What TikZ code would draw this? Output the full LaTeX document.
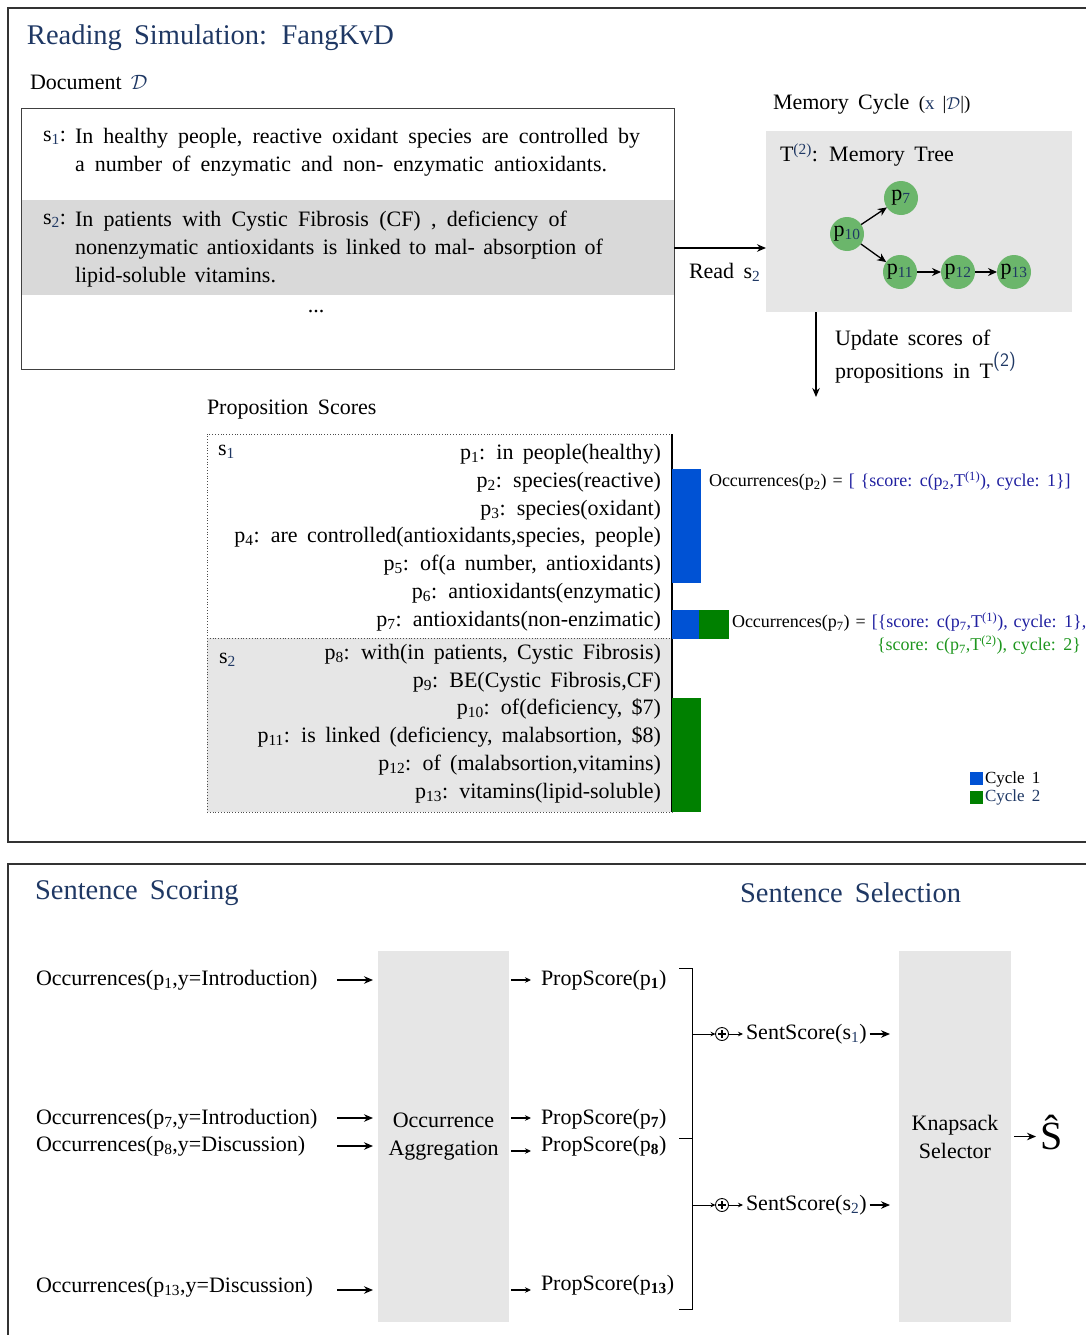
\documentclass[tikz,border=0pt]{standalone}
\usepackage{fontspec}
\setmainfont{Liberation Serif}[WordSpace=1.7]
\usetikzlibrary{arrows.meta}
\definecolor{navy}{RGB}{31,56,100}
\definecolor{cblue}{RGB}{0,82,212}
\definecolor{cgreen}{RGB}{0,128,0}
\definecolor{lgreen}{RGB}{107,182,107}
\definecolor{lgray}{RGB}{230,230,230}
\definecolor{mgray}{RGB}{217,217,217}
\definecolor{tblue}{RGB}{32,32,160}
\definecolor{tgreen}{RGB}{30,150,30}
\newcommand{\fsz}[1]{\fontsize{#1}{#1}\selectfont}
\newcommand{\nsub}[1]{\textsubscript{\textcolor{navy}{#1}}}
\newcommand{\bsub}[1]{\textsubscript{#1}}
\newcommand{\nsup}[1]{\textsuperscript{\textcolor{navy}{#1}}}
\newcommand{\tightsp}{\spaceskip=0.33em plus 0.1em minus 0.05em\relax}
\begin{document}
\begin{tikzpicture}[x=1pt,y=-1pt,
  every node/.style={inner sep=0pt, outer sep=0pt},
  body/.style={font=\fsz{22}},
  small/.style={font=\fsz{18}},
  ttl/.style={font=\fsz{28.5}, text=navy},
  arr/.style={-{Stealth[length=9pt,width=7.5pt]}, line width=1.2pt},
  sarr/.style={-{Stealth[length=5pt,width=4.5pt]}, line width=0.8pt},
  tarr/.style={-{Stealth[length=9pt,width=8pt]}, line width=1.3pt},
  frame/.style={draw=black!80, line width=1.6pt},
  tnode/.style={circle, fill=lgreen, minimum size=34pt, font=\fsz{22}},
  bar/.style={fill=#1, anchor=north west}
]
\useasboundingbox (0,0) rectangle (1086,1335);
\clip (0,0) rectangle (1086,1335);

% ===== top frame =====
\node[frame, anchor=north west, minimum width=1110pt, minimum height=834pt] (topframe) at (8,8) {};
\node[ttl, anchor=west] (title1) at (27,38) {Reading Simulation: FangKvD};
\node[body, anchor=west] (doclbl) at (30,82) {Document \textcolor{navy}{$\mathcal{D}$}};

% document box
\node[fill=mgray, anchor=north west, minimum width=653pt, minimum height=95pt] (band) at (21,200) {};
\node[draw=black!75, line width=0.9pt, anchor=north west, minimum width=653pt, minimum height=261pt] (docbox) at (21,108) {};
\node[body, anchor=west] (s1l) at (43,138) {s\nsub{1}:};
\node[body, anchor=west] (s1a) at (75,138) {\makebox[565pt][s]{In healthy people, reactive oxidant species are controlled by}};
\node[body, anchor=west] (s1b) at (75,166) {\makebox[532pt][s]{a number of enzymatic and non- enzymatic antioxidants.}};
\node[body, anchor=west] (s2l) at (43,221) {s\nsub{2}:};
\node[body, anchor=west] (s2a) at (75,221) {\makebox[492pt][s]{In patients with Cystic Fibrosis (CF) , deficiency of}};
\node[body, anchor=west] (s2b) at (75,249) {\makebox[528pt][s]{nonenzymatic antioxidants is linked to mal- absorption of}};
\node[body, anchor=west] (s2c) at (75,277) {\makebox[201pt][s]{lipid-soluble vitamins.}};
\node[body] (dots) at (316,312) {...};

% memory cycle
\node[body, anchor=west] (memlbl) at (773,104) {Memory Cycle {\fsz{19}(\textcolor{navy}{x} |\textcolor{navy}{$\mathcal{D}$}|)}};
\node[fill=lgray, anchor=north west, minimum width=306pt, minimum height=181pt] (membox) at (766,131) {};
\node[body, anchor=west] (memttl) at (780,155) {T\nsup{(2)}: Memory Tree};
\node[tnode] (p10) at (847,234) {p\nsub{10}};
\node[tnode] (p7) at (901,198) {p\nsub{7}};
\node[tnode] (p11) at (900,272) {p\nsub{11}};
\node[tnode] (p12) at (958,272) {p\nsub{12}};
\node[tnode] (p13) at (1014,272) {p\nsub{13}};
\draw[tarr] (p10) -- (p7);
\draw[tarr] (p10) -- (p11);
\draw[tarr] (p11) -- (p12);
\draw[tarr] (p12) -- (p13);

\coordinate (rd) at (674,248);
\draw[arr] (rd) -- (rd -| membox.west);
\node[body, anchor=west] (readlbl) at (689,272) {Read s\nsub{2}};

\coordinate (updtop) at (816,312);
\coordinate (upd) at (816,397);
\draw[arr] (updtop) -- (upd);
\node[body, anchor=west] (upd1) at (835,340) {Update scores of};
\node[body, anchor=west] (upd2) at (835,368) {propositions in T\raisebox{0.55em}{\textcolor{navy}{\sffamily\fsz{19}(2)}}};

% proposition scores
\node[body, anchor=west] (pslbl) at (207,410) {Proposition Scores};
\node[fill=lgray, anchor=north west, minimum width=465pt, minimum height=174pt] (s2reg) at (207,638) {};
\node[draw=black!70, dotted, line width=0.8pt, anchor=north west, minimum width=465pt, minimum height=378pt] (propbox) at (207,434) {};
\draw[black!70, dotted, line width=0.8pt] (s2reg.north west) -- (s2reg.north east);
\draw[line width=1.3pt] (propbox.north east) -- (propbox.south east);
\node[body, anchor=west] (ps1) at (218,452) {s\nsub{1}};
\node[body, anchor=west] (ps2) at (219,660) {s\nsub{2}};
\node[body, anchor=east] (q1) at (661,454) {p\bsub{1}: in people(healthy)};
\node[body, anchor=east] (q2) at (661,482) {p\bsub{2}: species(reactive)};
\node[body, anchor=east] (q3) at (661,510) {p\bsub{3}: species(oxidant)};
\node[body, anchor=east] (q4) at (661,537) {p\bsub{4}: are controlled(antioxidants,species, people)};
\node[body, anchor=east] (q5) at (661,565) {p\bsub{5}: of(a number, antioxidants)};
\node[body, anchor=east] (q6) at (661,593) {p\bsub{6}: antioxidants(enzymatic)};
\node[body, anchor=east] (q7) at (661,621) {p\bsub{7}: antioxidants(non-enzimatic)};
\node[body, anchor=east] (q8) at (661,654) {p\bsub{8}: with(in patients, Cystic Fibrosis)};
\node[body, anchor=east] (q9) at (661,682) {p\bsub{9}: BE(Cystic Fibrosis,CF)};
\node[body, anchor=east] (q10) at (661,709) {p\bsub{10}: of(deficiency, \$7)};
\node[body, anchor=east] (q11) at (661,737) {p\bsub{11}: is linked (deficiency, malabsortion, \$8)};
\node[body, anchor=east] (q12) at (661,765) {p\bsub{12}: of (malabsortion,vitamins)};
\node[body, anchor=east] (q13) at (661,793) {p\bsub{13}: vitamins(lipid-soluble)};

% bars
\node[bar=cblue, minimum width=29pt, minimum height=114pt] (bar1) at (672,469) {};
\node[bar=cblue, minimum width=27pt, minimum height=29pt] (bar2) at (672,610) {};
\node[bar=cgreen, minimum width=30pt, minimum height=29pt] (bar3) at (699,610) {};
\node[bar=cgreen, minimum width=29pt, minimum height=114pt] (bar4) at (672,698) {};

\node[small, anchor=west] (occ2) at (709,481) {\tightsp Occurrences(p\bsub{2}) = \textcolor{tblue}{[ \{score: c(p\bsub{2},T\textsuperscript{(1)}), cycle: 1\}]}};
\node[small, anchor=west] (occ7) at (732,622) {\tightsp Occurrences(p\bsub{7}) = \textcolor{tblue}{[\{score: c(p\bsub{7},T\textsuperscript{(1)}), cycle: 1\},}};
\node[small, anchor=west, text=tgreen] (occ7b) at (877,645) {\tightsp\{score: c(p\bsub{7},T\textsuperscript{(2)}), cycle: 2\}};

% legend
\node[bar=cblue, minimum size=13pt] (lg1) at (970,772) {};
\node[bar=cgreen, minimum size=13pt] (lg2) at (970,791) {};
\node[font=\fsz{17}, anchor=west] (lt1) at (985,779) {Cycle 1};
\node[font=\fsz{17}, anchor=west, text=navy] (lt2) at (985,797) {Cycle 2};

% ===== bottom frame =====
\node[frame, anchor=north west, minimum width=1110pt, minimum height=500pt] (botframe) at (8,864) {};
\node[ttl, anchor=west] (title2) at (35,893) {Sentence Scoring};
\node[ttl, anchor=west] (title3) at (740,893) {Sentence Selection};

\node[fill=lgray, anchor=north west, minimum width=131pt, minimum height=371pt, body, align=center] (agg) at (378,951) {Occurrence\\[6pt]Aggregation};
\node[fill=lgray, anchor=north west, minimum width=112pt, minimum height=371pt, body, align=center] (knap) at (899,951) {Knapsack\\[6pt]Selector};

\node[body, anchor=west] (in1) at (36,980) {Occurrences(p\bsub{1},y=Introduction)};
\node[body, anchor=west] (in7) at (36,1119) {Occurrences(p\bsub{7},y=Introduction)};
\node[body, anchor=west] (in8) at (36,1146) {Occurrences(p\bsub{8},y=Discussion)};
\node[body, anchor=west] (in13) at (36,1287) {Occurrences(p\bsub{13},y=Discussion)};
\coordinate (a1) at (337,980);
\coordinate (a7) at (337,1118);
\coordinate (a8) at (337,1146);
\coordinate (a13) at (337,1290);
\foreach \c in {a1,a7,a8,a13} \draw[arr, line width=1.3pt, shorten >=5pt] (\c) -- (\c -| agg.west);

\node[body, anchor=west] (o1) at (541,980) {PropScore(p\textsubscript{\textbf{1}})};
\node[body, anchor=west] (o7) at (541,1119) {PropScore(p\textsubscript{\textbf{7}})};
\node[body, anchor=west] (o8) at (541,1146) {PropScore(p\textsubscript{\textbf{8}})};
\node[body, anchor=west] (o13) at (541,1285) {PropScore(p\textsubscript{\textbf{13}})};
\coordinate (b1) at (511,980);
\coordinate (b7) at (511,1118);
\coordinate (b8) at (511,1151);
\coordinate (b13) at (511,1290);
\foreach \c/\o in {b1/o1,b7/o7,b8/o8,b13/o13} \draw[-{Stealth[length=6pt,width=5.5pt]}, line width=1.1pt, shorten >=10pt] (\c) -- (\c -| \o.west);

% bracket
\coordinate (k1) at (692,968);
\coordinate (k2) at (692,1138);
\coordinate (k3) at (692,1309);
\draw[line width=1pt] ([xshift=-13pt]k1) -- (k1) -- (k3) -- ([xshift=-13pt]k3);
\draw[line width=1pt] ([xshift=-13pt]k2) -- (k2);

\coordinate (j1) at (692,1034);
\coordinate (j2) at (692,1205);
\node[circle, draw, line width=0.9pt, minimum size=13pt] (op1) at (722,1034) {};
\node[circle, draw, line width=0.9pt, minimum size=13pt] (op2) at (722,1205) {};
\foreach \o in {op1,op2} {
  \draw[line width=1.2pt] ([xshift=-4pt]\o.center) -- ([xshift=4pt]\o.center);
  \draw[line width=1.2pt] ([yshift=-4pt]\o.center) -- ([yshift=4pt]\o.center);
}
\draw[sarr] (j1) -- (op1.west);
\draw[sarr] (j2) -- (op2.west);
\node[body, anchor=west] (ss1) at (746,1034) {SentScore(s\nsub{1})};
\node[body, anchor=west] (ss2) at (746,1205) {SentScore(s\nsub{2})};
\draw[sarr, shorten >=3pt] (op1.east) -- (ss1.west);
\draw[sarr, shorten >=3pt] (op2.east) -- (ss2.west);
\draw[arr, line width=1.3pt, shorten <=3pt, shorten >=9pt] (ss1.east) -- (ss1.east -| knap.west);
\draw[arr, line width=1.3pt, shorten <=3pt, shorten >=9pt] (ss2.east) -- (ss2.east -| knap.west);

\node[font=\fsz{40}, anchor=west] (shat) at (1040,1133) {Ŝ};
\draw[arr, line width=1.3pt, shorten <=3pt, shorten >=4pt] (knap.east) -- (knap.east -| shat.west);
\end{tikzpicture}
\end{document}
